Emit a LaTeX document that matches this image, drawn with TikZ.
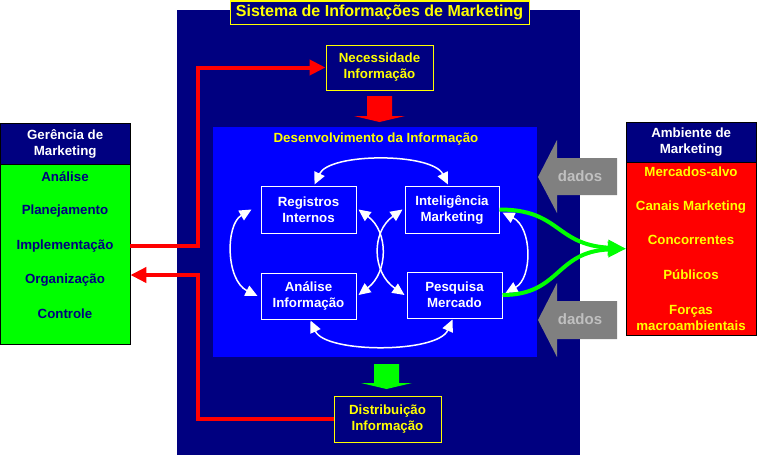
\documentclass[tikz,border=0pt]{standalone}
\usepackage{fontspec}
\setmainfont{Liberation Sans}
\usetikzlibrary{arrows.meta,calc}
\definecolor{navy}{RGB}{0,0,128}
\definecolor{bblue}{RGB}{0,0,255}
\definecolor{yel}{RGB}{255,255,0}
\definecolor{rd}{RGB}{255,0,0}
\definecolor{grn}{RGB}{0,255,0}
\definecolor{dgray}{RGB}{128,128,128}
\definecolor{lgray}{RGB}{192,192,192}
\begin{document}
\begin{tikzpicture}[x=1pt,y=-1pt,
  txt/.style={font=\fontsize{13.3}{16}\selectfont\bfseries, align=center, inner sep=0pt},
  ybox/.style={txt, draw=yel, fill=navy, text=yel, line width=1pt},
  wbox/.style={txt, draw=white, text=white, line width=1pt},
  wlink/.style={draw=white, line width=1.5pt, {Triangle[length=12pt,width=11pt]}-{Triangle[length=12pt,width=11pt]}},
  redline/.style={draw=rd, line width=4pt, -{Triangle[length=16pt,width=15pt]}},
  glink/.style={draw=grn, line width=4pt, -{Triangle[length=18pt,width=15pt]}},
  dadostxt/.style={font=\fontsize{15}{18}\selectfont\bfseries, text=lgray, inner sep=0pt}
]
\fill[white] (0,0) rectangle (757,455);
\useasboundingbox (0,0) rectangle (757,455);
% system box
\fill[navy] (177,10) rectangle (580,455);
\node[ybox, font=\fontsize{16}{18}\selectfont\bfseries, minimum width=299, minimum height=23] (title) at (379.5,12.5) {Sistema de Informações de Marketing};
% development box
\node[fill=bblue, minimum width=324, minimum height=230, inner sep=0pt] (dev) at (375,242) {};
\node[txt, text=yel] (devlbl) at (376,139) {Desenvolvimento da Informação};
% need / distribution
\node[ybox, minimum width=107, minimum height=45] (nec) at (379.5,67.5) {Necessidade\\Informação};
\node[ybox, minimum width=107, minimum height=46] (dist) at (387.5,419) {Distribuição\\Informação};
% inner boxes
\node[wbox, minimum width=95, minimum height=47] (reg) at (308.5,209.5) {Registros\\Internos};
\node[wbox, minimum width=94, minimum height=47] (intel) at (452,209.5) {Inteligência\\Marketing};
\node[wbox, minimum width=95, minimum height=46] (anal) at (308.5,296) {Análise\\Informação};
\node[wbox, minimum width=95, minimum height=46] (pesq) at (454.5,295) {Pesquisa\\Mercado};
% white links
\draw[wlink] ([shift={(6,-1)}]reg.north) .. controls +(15,-32) and +(-16,-32) .. ([shift={(-4,-1)}]intel.north);
\draw[wlink] ([shift={(2,1)}]anal.south) .. controls +(15,33) and +(-15,34) .. ([shift={(-2,1)}]pesq.south);
\draw[wlink] ([shift={(-9,0)}]reg.west) .. controls +(-26,15) and +(-32,-16) .. ([shift={(-3,0)}]anal.west);
\draw[wlink] ([shift={(3,3)}]intel.east) .. controls +(30,15) and +(27,-15) .. ([shift={(3,-2)}]pesq.east);
\draw[wlink] ([shift={(2,0)}]reg.east) .. controls +(30,22) and +(30,-23) .. ([shift={(2,-1)}]anal.east);
\draw[wlink] ([shift={(-2,0)}]intel.west) .. controls +(-31,22) and +(-33,-23) .. ([shift={(-2,0)}]pesq.west);
% block arrows
\fill[rd] (367,96) -- (392,96) -- (392,116) -- (405,116) -- (379.5,122) -- (354,116) -- (367,116) -- cycle;
\fill[grn] (374,364) -- (399,364) -- (399,383) -- (412,383) -- (386.5,389) -- (361,383) -- (374,383) -- cycle;
% dados arrows
\fill[dgray] (538,177) -- (557,140) -- (557,158) -- (617,158) -- (617,195) -- (557,195) -- (557,213) -- cycle;
\node[dadostxt] (dados1) at (580,176) {dados};
\fill[dgray] (538,320) -- (557,283) -- (557,301) -- (617,301) -- (617,339) -- (557,339) -- (557,357) -- cycle;
\node[dadostxt] (dados2) at (580,319) {dados};
% Gerencia
\node[txt, fill=navy, draw=black, text=white, minimum width=130, minimum height=41, anchor=north west] (ghead) at (0,123) {Gerência de\\Marketing};
\node[fill=grn, draw=black, minimum width=130, minimum height=180, inner sep=0pt, anchor=north west] (gbody) at (0,164) {};
\node[txt, text=navy] (ganal) at (65,177) {Análise};
\node[txt, text=navy] (gplan) at (65,211) {Planejamento};
\node[txt, text=navy] (gimpl) at (65,246) {Implementação};
\node[txt, text=navy] (gorg) at (65,280) {Organização};
\node[txt, text=navy] (gcont) at (65,314) {Controle};
% Ambiente
\node[txt, fill=navy, draw=black, text=white, minimum width=130, minimum height=40, anchor=north west] (ahead) at (626,122) {Ambiente de\\Marketing};
\node[fill=rd, draw=black, minimum width=130, minimum height=173, inner sep=0pt, anchor=north west] (abody) at (626,162) {};
\node[txt, text=yel] (amerc) at (691,172) {Mercados-alvo};
\node[txt, text=yel] (acan) at (691,207) {Canais Marketing};
\node[txt, text=yel] (acon) at (691,240) {Concorrentes};
\node[txt, text=yel] (apub) at (691,275) {Públicos};
\node[txt, text=yel] (afor) at (691,318) {Forças\\macroambientais};
% red flows
\draw[redline] (gbody.east |- gimpl) -- ++(68,0) |- (nec.west);
\draw[redline] (dist.west) -- ++(-136,0) |- ($(gbody.east |- gorg)+(0,-5)$);
% green links
\draw[glink] (intel.east) .. controls +(61,0) and +(-71,-4) .. (abody.west);
\draw[glink] (pesq.east) .. controls +(58,0) and +(-71,3) .. (abody.west);
\end{tikzpicture}
\end{document}
